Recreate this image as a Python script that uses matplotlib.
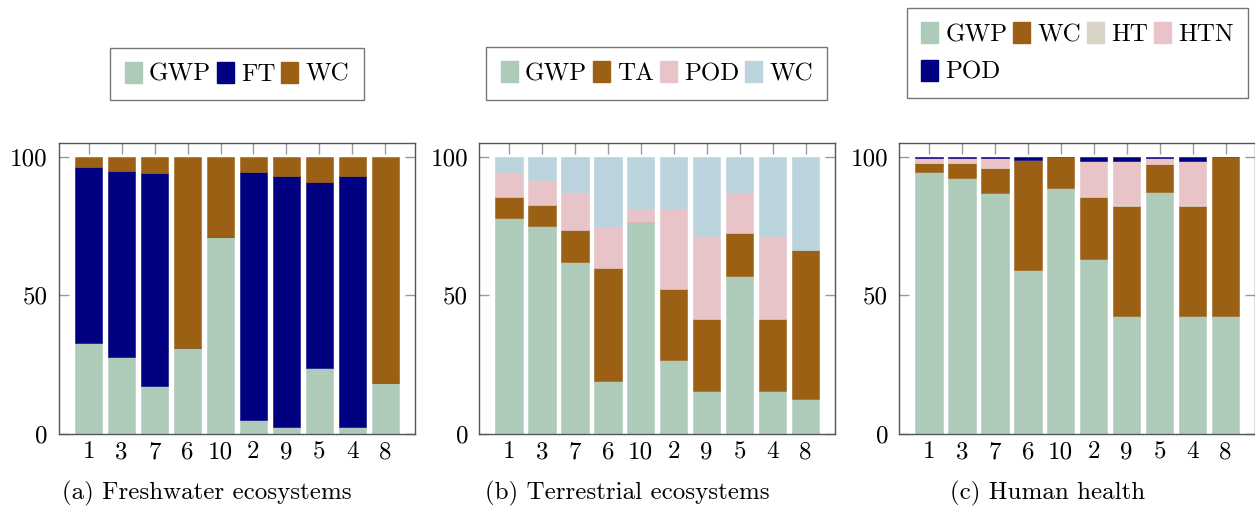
import matplotlib
matplotlib.use("Agg")
import matplotlib.pyplot as plt
import numpy as np
from matplotlib.patches import Patch

plt.rcParams['font.family'] = ['cmr10', 'DejaVu Serif']
plt.rcParams['axes.formatter.use_mathtext'] = True
plt.rcParams['mathtext.fontset'] = 'cm'

categories = ['1', '3', '7', '6', '10', '2', '9', '5', '4', '8']
yticks = [0, 50, 100]

# (a) Freshwater ecosystems
gwp_a = [32.8, 27.9, 17.4, 30.9, 71.0, 4.9, 2.5, 23.8, 2.5, 18.3]
ft_a = [63.4, 66.9, 76.8, 0.0, 0.0, 89.7, 90.5, 67.2, 90.5, 0.0]
wc_a = [3.8, 5.2, 5.8, 69.1, 29.0, 5.4, 7.0, 9.0, 7.0, 81.7]

# (b) Terrestrial ecosystems
gwp_b = [77.9, 74.9, 62.0, 19.0, 76.4, 26.7, 15.5, 57.0, 15.5, 12.5]
ta_b = [7.7, 7.7, 11.7, 40.7, 0.2, 25.6, 25.8, 15.6, 25.8, 54.0]
pod_b = [8.8, 9.0, 13.6, 14.8, 4.4, 28.8, 30.1, 14.3, 30.1, 0.0]
wc_b = [5.6, 8.4, 12.7, 25.5, 19.0, 18.9, 28.6, 13.1, 28.6, 33.5]

# (c) Human health
gwp_c = [94.5, 92.4, 87.0, 59.0, 88.8, 63.2, 42.7, 87.3, 42.7, 42.4]
wc_c = [3.3, 5.3, 9.0, 39.9, 11.0, 22.4, 39.6, 10.1, 39.6, 57.6]
ht_c = [0.0, 0.0, 0.0, 0.0, 0.0, 0.3, 0.5, 0.0, 0.5, 0.0]
htn_c = [1.8, 1.9, 3.5, 0.0, 0.0, 12.7, 15.5, 2.1, 15.5, 0.0]
pod_c = [0.4, 0.4, 0.5, 1.1, 0.2, 1.4, 1.7, 0.5, 1.7, 0.0]

C_GWP = '#aecab9'
C_FT = '#000080'
C_WC = '#9c6015'
C_POD = '#e8c3c7'
C_WCB = '#bbd3dd'
C_HT = '#d8d4c6'

panels = [
    dict(series=[('GWP', gwp_a, C_GWP), ('FT', ft_a, C_FT), ('WC', wc_a, C_WC)],
         caption='(a) Freshwater ecosystems', left=59, ncol=3, order=None),
    dict(series=[('GWP', gwp_b, C_GWP), ('TA', ta_b, C_WC), ('POD', pod_b, C_POD), ('WC', wc_b, C_WCB)],
         caption='(b) Terrestrial ecosystems', left=479.3, ncol=4, order=None),
    dict(series=[('GWP', gwp_c, C_GWP), ('WC', wc_c, C_WC), ('HT', ht_c, C_HT), ('HTN', htn_c, C_POD), ('POD', pod_c, C_FT)],
         caption='(c) Human health', left=899.3, ncol=4, order=[0, 4, 1, 2, 3]),
]

W, H = 1255, 508
fig = plt.figure(figsize=(W / 100, H / 100), dpi=100)
FS = 18
ax_w = 356
ax_top, ax_bot = 142.7, 434

legend_centers = [(237, 73.8), (656.8, 73.3), (1077.3, 53)]

for p, (lcx, lcy) in zip(panels, legend_centers):
    ax = fig.add_axes([p['left'] / W, 1 - ax_bot / H, ax_w / W, (ax_bot - ax_top) / H])
    x = np.arange(len(categories))
    bottom = np.zeros(len(categories))
    handles = []
    for name, vals, col in p['series']:
        v = np.array(vals)
        ax.bar(x, v, bottom=bottom, width=0.83, color=col, edgecolor=col, linewidth=0.4, zorder=2)
        bottom += v
        handles.append(Patch(facecolor=col, edgecolor=col, label=name))
    ax.set_xlim(-0.9, len(categories) - 0.1)
    ax.set_ylim(0, 105.05)
    ax.set_xticks(x)
    ax.set_xticklabels(categories, fontsize=FS)
    ax.set_yticks(yticks)
    ax.set_yticklabels([str(t) for t in yticks], fontsize=FS)
    ax.tick_params(axis='x', direction='in', top=True, bottom=False, length=8, width=1,
                   color='#999999', pad=5)
    ax.tick_params(axis='y', direction='in', left=True, right=True, length=7.5, width=1,
                   color='#999999', pad=8)
    for s in ax.spines.values():
        s.set_color('#555555')
        s.set_linewidth(1.0)
        s.set_zorder(3)
    if p['order'] is not None:
        handles = [handles[i] for i in p['order']]
    leg = fig.legend(handles=handles, loc='center', bbox_to_anchor=(lcx / W, 1 - lcy / H),
                     ncol=p['ncol'], fontsize=FS, frameon=True, fancybox=False,
                     edgecolor='#555555', handlelength=0.68, handleheight=0.9,
                     handletextpad=0.3, columnspacing=0.22, borderpad=0.57,
                     labelspacing=0.55)
    leg.get_frame().set_linewidth(1.0)
    cx = p['left'] + ax_w / 2 - 30
    fig.text(cx / W, 1 - 493 / H, p['caption'], ha='center', va='center', fontsize=FS)

fig.savefig('out.png', dpi=100)
